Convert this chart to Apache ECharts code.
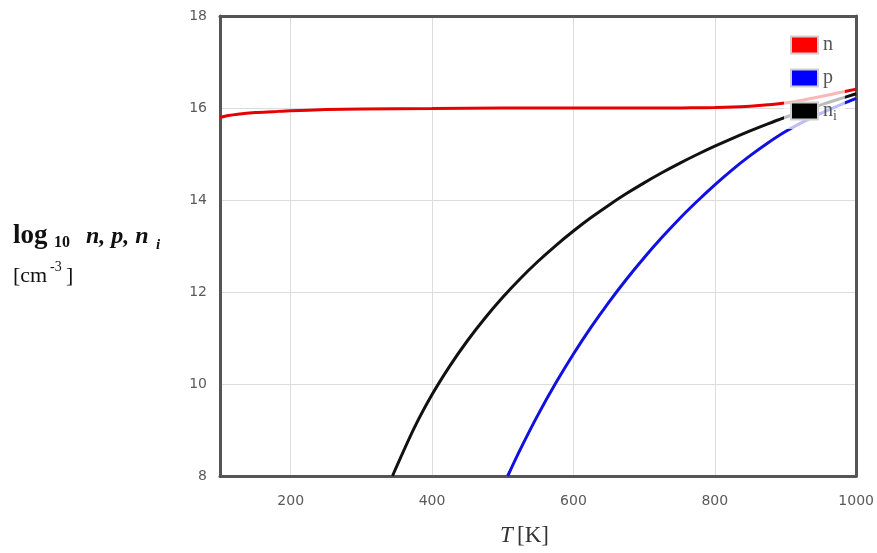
<!DOCTYPE html>
<html>
<head>
<meta charset="utf-8">
<script src="https://cdn.jsdelivr.net/npm/echarts@6/dist/echarts.min.js"></script>
<style>
html,body{margin:0;padding:0;background:#fff;}
#chart{width:877px;height:553px;}
</style>
</head>
<body>
<div id="chart"></div>
<script>
// Temperatures (K) and log10 concentrations
var nT    = [100, 112, 125, 150, 175, 200, 250, 300, 400, 500, 600, 700, 750, 775, 800, 825, 850, 875, 900, 925, 950, 975, 1000];
var nVals = [15.79, 15.835, 15.865, 15.9, 15.92, 15.94, 15.965, 15.98, 15.99, 16.0, 16.0, 16.0, 16.0, 16.005, 16.01, 16.02, 16.04, 16.07, 16.11, 16.176, 16.25, 16.33, 16.41];

var pT    = [507, 525, 550, 575, 600, 625, 650, 675, 700, 725, 750, 775, 800, 825, 850, 875, 900, 925, 950, 975, 1000];
var pVals = [8.0, 8.584, 9.334, 10.02, 10.652, 11.236, 11.776, 12.278, 12.746, 13.184, 13.594, 13.973, 14.33, 14.662, 14.964, 15.24, 15.488, 15.698, 15.884, 16.053, 16.21];

var niT    = [344, 375, 400, 425, 450, 475, 500, 525, 550, 575, 600, 625, 650, 675, 700, 725, 750, 775, 800, 825, 850, 875, 900, 925, 950, 975, 1000];
var niVals = [8.0, 9.05, 9.77, 10.39, 10.94, 11.435, 11.885, 12.294, 12.668, 13.01, 13.326, 13.618, 13.888, 14.139, 14.373, 14.592, 14.797, 14.989, 15.17, 15.341, 15.502, 15.655, 15.799, 15.937, 16.067, 16.191, 16.31];

var seriesNames = ['n', 'p', 'ni'];

function pairs(xs, ys) { return xs.map(function (x, i) { return [x, ys[i]]; }); }

var chart = echarts.init(document.getElementById('chart'), null, {renderer: 'canvas'});
var serif = '"Liberation Serif", "DejaVu Serif", serif';
var tickFont = {color: '#5a5a5a', fontFamily: '"DejaVu Sans", sans-serif', fontSize: 14};
var frameLine = {show: true, onZero: false, lineStyle: {color: '#555', width: 3}};

chart.setOption({
  animation: false,
  backgroundColor: '#fff',
  grid: {left: 220, right: 19, top: 16, bottom: 77},
  xAxis: [{
    type: 'value', min: 100, max: 1000, position: 'bottom',
    axisLine: frameLine, axisTick: {show: false},
    axisLabel: Object.assign({margin: 18, showMinLabel: false, formatter: function (v) { return String(v); }}, tickFont),
    splitLine: {show: true, lineStyle: {color: '#dcdcdc', width: 1}}
  }, {
    type: 'value', min: 100, max: 1000, position: 'top',
    axisLine: frameLine, axisTick: {show: false}, axisLabel: {show: false}, splitLine: {show: false}
  }],
  yAxis: [{
    type: 'value', min: 8, max: 18, interval: 2, position: 'left',
    axisLine: frameLine, axisTick: {show: false},
    axisLabel: Object.assign({margin: 13}, tickFont),
    splitLine: {show: true, lineStyle: {color: '#dcdcdc', width: 1}}
  }, {
    type: 'value', min: 8, max: 18, interval: 2, position: 'right',
    axisLine: frameLine, axisTick: {show: false}, axisLabel: {show: false}, splitLine: {show: false}
  }],
  legend: {
    orient: 'vertical', left: 784, top: 29,
    data: seriesNames,
    icon: 'rect', itemWidth: 27, itemHeight: 17, itemGap: 13,
    itemStyle: {borderColor: '#cfcfcf', borderWidth: 2},
    backgroundColor: 'rgba(255,255,255,0.72)',
    padding: [6, 8, 6, 6],
    formatter: function (name) { return name === 'ni' ? '{m|n}{s|i}' : '{m|' + name + '}'; },
    textStyle: {
      color: '#555', fontFamily: serif, fontSize: 20,
      rich: {
        m: {color: '#555', fontFamily: serif, fontSize: 20, lineHeight: 21},
        s: {color: '#555', fontFamily: serif, fontSize: 14, padding: [10, 0, 0, 0]}
      }
    }
  },
  series: [
    {name: 'n', type: 'line', data: pairs(nT, nVals), smooth: 0.3, showSymbol: false,
     lineStyle: {color: '#e60000', width: 3}, itemStyle: {color: '#ff0000'}},
    {name: 'p', type: 'line', data: pairs(pT, pVals), smooth: 0.3, showSymbol: false,
     lineStyle: {color: '#1010e0', width: 3}, itemStyle: {color: '#0000ff'}},
    {name: 'ni', type: 'line', data: pairs(niT, niVals), smooth: 0.3, showSymbol: false,
     lineStyle: {color: '#111', width: 3}, itemStyle: {color: '#000'}}
  ],
  graphic: [
    {type: 'text', left: 13, top: 223, style: {text: 'log', font: 'bold 27px ' + serif, fill: '#111'}},
    {type: 'text', left: 54, top: 235, style: {text: '10', font: 'bold 16px ' + serif, fill: '#111'}},
    {type: 'text', left: 86, top: 225, style: {text: 'n, p, n', font: 'italic bold 24px ' + serif, fill: '#111'}},
    {type: 'text', left: 156, top: 238, style: {text: 'i', font: 'italic bold 15px ' + serif, fill: '#111'}},
    {type: 'text', left: 13, top: 265, style: {text: '[cm', font: '22px ' + serif, fill: '#111'}},
    {type: 'text', left: 50, top: 260, style: {text: '-3', font: '14px ' + serif, fill: '#111'}},
    {type: 'text', left: 66, top: 265, style: {text: ']', font: '22px ' + serif, fill: '#111'}},
    {type: 'text', left: 500, top: 524, style: {text: 'T', font: 'italic 23px ' + serif, fill: '#333'}},
    {type: 'text', left: 517, top: 524, style: {text: '[K]', font: '23px ' + serif, fill: '#333'}}
  ]
});
</script>
</body>
</html>
